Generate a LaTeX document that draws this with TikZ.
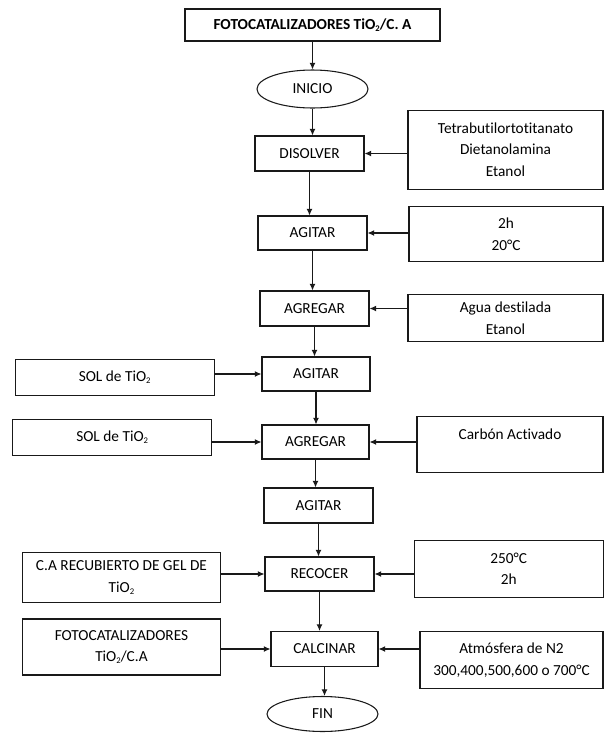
\documentclass[tikz,border=0pt]{standalone}
\usepackage{fontspec}
\setmainfont{Carlito}[Ligatures=NoCommon]
\usetikzlibrary{arrows.meta,shapes.geometric}
% small lowered subscript two, as in TiO2
\newcommand\lowtwo{\raisebox{-0.3ex}{\fontsize{6.5}{6.5}\selectfont 2}}
\begin{document}
\begin{tikzpicture}[x=0.75pt,y=-0.75pt,
  font=\fontsize{11.5}{16}\selectfont,
  base/.style={draw=black!90, line width=0.8pt, inner sep=0pt, align=center, text=black},
  box/.style 2 args={base, rectangle, minimum width=#1*0.75pt, minimum height=#2*0.75pt},
  oval/.style 2 args={base, ellipse, minimum width=#1*0.75pt, minimum height=#2*0.75pt},
  arr/.style={draw=black!90, line width=0.8pt, -{Latex[length=5pt,width=4.5pt]}}
]
\useasboundingbox (0,0) rectangle (605,733);

% main column
\node[box={255}{32}] (title) at (312.5,25) {\bfseries FOTOCATALIZADORES TiO\lowtwo/C. A};
\node[oval={111}{38}] (inicio) at (312.5,89) {INICIO};
\node[box={109}{35}] (dis) at (309.5,153.5) {DISOLVER};
\node[box={109}{34}] (ag1) at (312.5,233) {AGITAR};
\node[box={109}{35}] (agr1) at (314.5,308.5) {AGREGAR};
\node[box={108}{34}] (ag2) at (316,374) {AGITAR};
\node[box={107}{34}] (agr2) at (315.5,442) {AGREGAR};
\node[box={109}{35}] (ag3) at (318.5,505.5) {AGITAR};
\node[box={109}{34}] (rec) at (319.5,574) {RECOCER};
\node[box={107}{35}] (cal) at (324.5,649) {CALCINAR};
\node[oval={111}{35}] (fin) at (322.5,714) {FIN};

% inputs on the right
\node[box={195}{79}] (tetra) at (505.5,149.7) {Tetrabutilortotitanato\\Dietanolamina\\Etanol};
\node[box={194}{55}] (cond1) at (506,234.2) {2h\\20°C};
\node[box={195}{47}] (agua) at (505.5,318.1) {Agua destilada\\Etanol};
\node[box={186}{56}] (carbon) at (510,444.7) {Carbón Activado\\\mbox{}};
\node[box={189}{57}] (cond2) at (508.7,569) {250°C\\2h};
\node[box={183}{57}] (atm) at (511.5,660) {Atmósfera de N2\\300,400,500,600 o 700°C};

% inputs on the left
\node[box={199}{36}] (sol1) at (114.7,377.2) {SOL de TiO\lowtwo};
\node[box={199}{36}] (sol2) at (112.2,437.5) {SOL de TiO\lowtwo};
\node[box={198}{50}] (gel) at (121.5,577.5) {C.A RECUBIERTO DE GEL DE\\TiO\lowtwo};
\node[box={198}{56}] (foto) at (121.5,647) {FOTOCATALIZADORES\\TiO\lowtwo/C.A};

% main flow, straight down from each step
\foreach \a/\b in {title/inicio, inicio/dis, dis/ag1, ag1/agr1, agr1/ag2,
                   ag2/agr2, agr2/ag3, ag3/rec, rec/cal, cal/fin}
  \draw[arr] (\a.south) -- (\a.south |- \b.north);

% side inputs
\draw[arr] (tetra.west |- dis.east) -- (dis.east);
\draw[arr] (cond1.west |- ag1.east) -- (ag1.east);
\draw[arr] (agua.west |- agr1.east) -- (agr1.east);
\draw[arr] (carbon.west |- agr2.east) -- (agr2.east);
\draw[arr] (cond2.west |- rec.east) -- (rec.east);
\draw[arr] (atm.west |- cal.east) -- (cal.east);
\draw[arr] (sol1.east |- ag2.west) -- (ag2.west);
\draw[arr] (sol2.east |- agr2.west) -- (agr2.west);
\draw[arr] (gel.east |- rec.west) -- (rec.west);
\draw[arr] (foto.east |- cal.west) -- (cal.west);
\end{tikzpicture}
\end{document}
